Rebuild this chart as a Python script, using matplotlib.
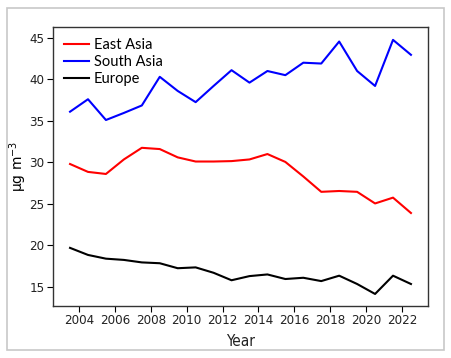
import numpy as np
import matplotlib.pyplot as plt
from matplotlib.patches import Rectangle

# annual mean values, plotted at mid-year
years = np.arange(2003, 2023) + 0.5
east_asia = [29.8, 28.85, 28.6, 30.35, 31.75, 31.6, 30.6, 30.1, 30.1, 30.15,
             30.35, 31.0, 30.05, 28.3, 26.45, 26.55, 26.45, 25.05, 25.75, 23.9]
south_asia = [36.1, 37.6, 35.1, 35.95, 36.85, 40.3, 38.6, 37.25, 39.2, 41.1,
              39.6, 41.0, 40.5, 42.0, 41.9, 44.55, 41.0, 39.2, 44.75, 42.95]
europe = [19.7, 18.85, 18.4, 18.25, 17.95, 17.85, 17.25, 17.35, 16.7, 15.8,
          16.3, 16.5, 15.95, 16.1, 15.7, 16.35, 15.35, 14.15, 16.35, 15.35]
xticks = list(range(2004, 2023, 2))
yticks = [15, 20, 25, 30, 35, 40, 45]

fig = plt.figure(figsize=(4.51, 3.58), dpi=100)
ax = fig.add_axes([53/451, 1-306/358, 375/451, 279/358])

# light frame around the whole figure
fig.patches.append(Rectangle((7/451, 8/358), 437/451, 342/358, transform=fig.transFigure,
                             fill=False, edgecolor='#c8c8c8', linewidth=1.2))

ax.plot(years, east_asia, color='#ff0000', lw=1.5, label='East Asia')
ax.plot(years, south_asia, color='#0000ff', lw=1.5, label='South Asia')
ax.plot(years, europe, color='black', lw=1.5, label='Europe')

ax.set_xlim(2002.55, 2023.45)
ax.set_ylim(12.7, 46.3)
ax.set_xticks(xticks)
ax.set_yticks(yticks)
ax.set_xticklabels([str(t) for t in xticks], family='DejaVu Sans', stretch='condensed',
                   fontsize=9.5, color='#222222')
ax.set_yticklabels([str(t) for t in yticks], family='DejaVu Sans', stretch='condensed',
                   fontsize=9.5, color='#222222')
ax.tick_params(direction='out', length=4, width=0.8, pad=2)
for s in ax.spines.values():
    s.set_linewidth(1.0)
    s.set_color('#333333')

ax.set_xlabel('Year', family='DejaVu Sans', stretch='condensed', fontsize=11, color='#222222')
ax.xaxis.set_label_coords(0.5, -0.1)
ax.set_ylabel('μg m$^{-3}$', fontsize=10)
ax.yaxis.set_label_coords(-0.063, 0.5)

leg = ax.legend(loc='upper left', frameon=False, handlelength=1.7,
                borderaxespad=0.35, labelspacing=0.2, handletextpad=0.35,
                prop={'family': 'Lato', 'size': 10.5})

fig.savefig('out.png', dpi=100)
